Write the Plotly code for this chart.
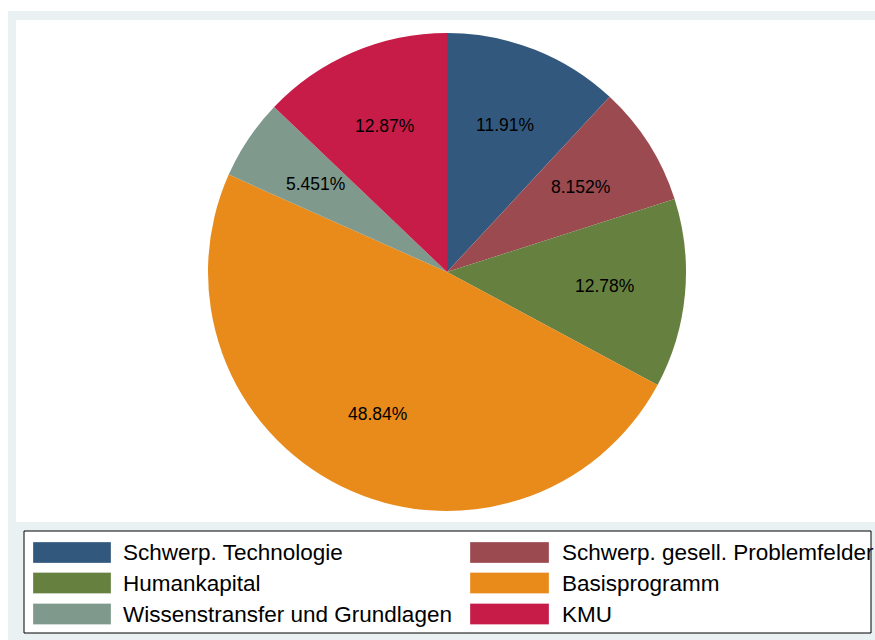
import numpy as np
import plotly.graph_objects as go

# data
kategorien = ["Schwerp. Technologie", "Schwerp. gesell. Problemfelder", "Humankapital",
              "Basisprogramm", "Wissenstransfer und Grundlagen", "KMU"]
anteile = [11.91, 8.152, 12.78, 48.84, 5.451, 12.87]
beschriftung = ["11.91%", "8.152%", "12.78%", "48.84%", "5.451%", "12.87%"]
farben = ["#32597d", "#9b4a50", "#66803f", "#e88b1b", "#7f998c", "#c71c48"]

W, H = 875, 640

def px_x(x):
    return x / W

def px_y(y):
    return 1 - y / H

# pie geometry (pixels)
cx, cy, r = 447, 272, 239

fig = go.Figure()

fig.add_trace(go.Pie(
    labels=kategorien,
    values=anteile,
    sort=False,
    direction="clockwise",
    rotation=0,
    marker=dict(colors=farben, line=dict(width=0)),
    textinfo="none",
    hoverinfo="label+percent",
    showlegend=False,
    domain=dict(x=[px_x(cx - r), px_x(cx + r)], y=[px_y(cy + r), px_y(cy - r)]),
))

shapes = [
    # hellgrauer Hintergrund
    dict(type="rect", xref="paper", yref="paper", x0=px_x(8), x1=1, y0=0, y1=px_y(11),
         fillcolor="#e9f1f3", line=dict(width=0), layer="below"),
    # weisse Plotflaeche
    dict(type="rect", xref="paper", yref="paper", x0=px_x(16), x1=1, y0=px_y(522), y1=px_y(20),
         fillcolor="white", line=dict(width=0), layer="below"),
    # Legendenrahmen
    dict(type="rect", xref="paper", yref="paper", x0=px_x(24), x1=px_x(871), y0=px_y(633), y1=px_y(531),
         fillcolor="white", line=dict(width=1, color="black"), layer="below"),
]

annotations = []

# Prozentbeschriftungen im Kreis
total = sum(anteile)
kum = np.cumsum([0] + anteile)
for i, txt in enumerate(beschriftung):
    mitte = (kum[i] + anteile[i] / 2) / total * 2 * np.pi
    lx = cx + 0.663 * r * np.sin(mitte)
    ly = cy - 0.663 * r * np.cos(mitte)
    annotations.append(dict(x=px_x(lx), y=px_y(ly), xref="paper", yref="paper", text=txt,
                            showarrow=False, xanchor="center", yanchor="middle",
                            font=dict(size=17.5, color="black")))

# Legende (2 Spalten)
spalten_x = [(33, 111, 121), (470, 549, 560)]
zeilen_y = [552.5, 583, 614]
for i, name in enumerate(kategorien):
    sx0, sx1, tx = spalten_x[i % 2]
    yy = zeilen_y[i // 2]
    shapes.append(dict(type="rect", xref="paper", yref="paper",
                       x0=px_x(sx0), x1=px_x(sx1), y0=px_y(yy + 10.5), y1=px_y(yy - 10.5),
                       fillcolor=farben[i], line=dict(width=0.6, color="rgba(255,255,255,0.5)")))
    annotations.append(dict(x=px_x(tx), y=px_y(yy), xref="paper", yref="paper", text=name,
                            showarrow=False, xanchor="left", yanchor="middle",
                            font=dict(size=22.5, color="black")))

fig.update_layout(
    width=W,
    height=H,
    margin=dict(l=0, r=0, t=0, b=0),
    paper_bgcolor="white",
    plot_bgcolor="white",
    font=dict(family="Liberation Sans, Arial, sans-serif", color="black"),
    shapes=shapes,
    annotations=annotations,
    showlegend=False,
)

# Seitenrand entfernen, damit die Grafik genau ins Fenster passt
fig.write_html("out.html", config={"displayModeBar": False},
               post_script="document.body.style.margin='0';document.body.style.overflow='hidden';")
